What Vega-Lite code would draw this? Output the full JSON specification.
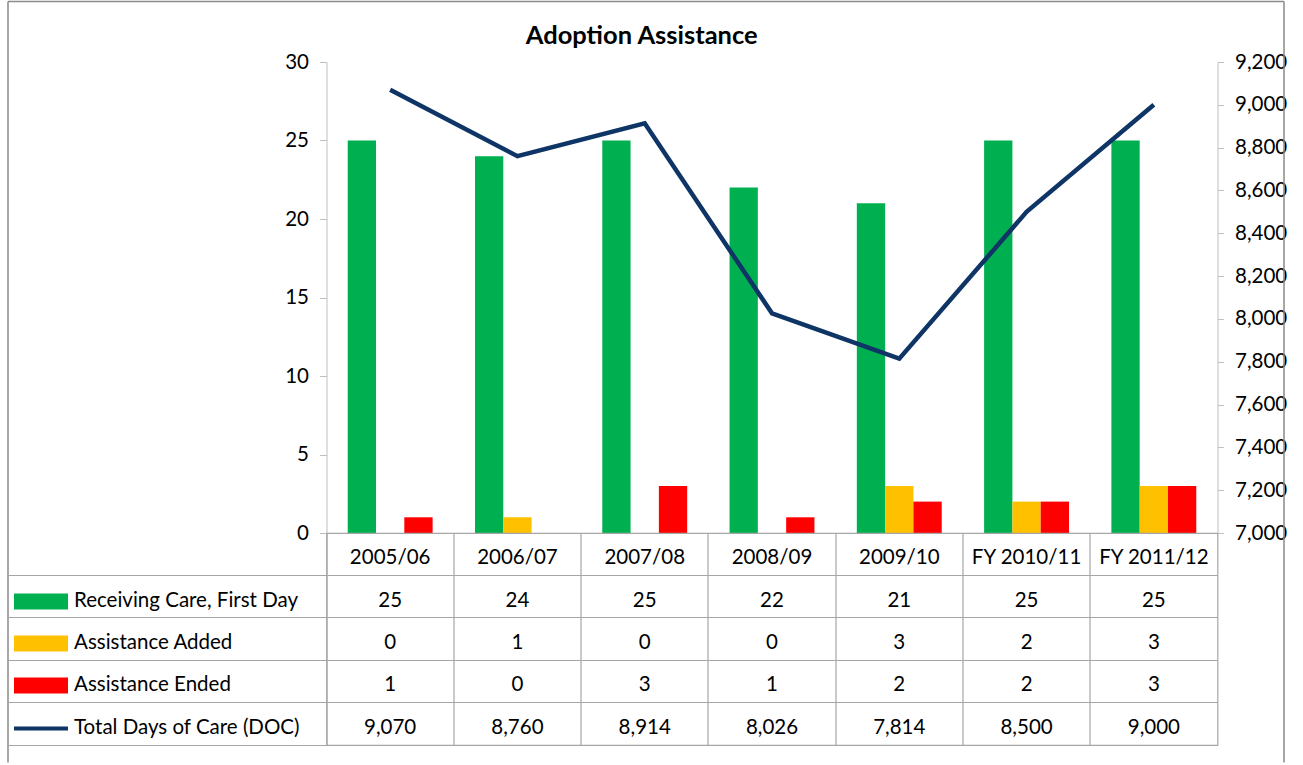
{
  "$schema": "https://vega.github.io/schema/vega-lite/v6.json",
  "padding": {"left": 4.5, "top": 1, "right": 0, "bottom": 0},
  "background": "#ffffff",
  "title": {"text": "Adoption Assistance", "font": "Lato", "fontSize": 25.5, "fontWeight": "bold", "anchor": "middle", "offset": -48, "dx": -162, "color": "#000000"},
  "datasets": {
    "main": [
      {"cat": "2005/06", "series": "Receiving Care, First Day", "value": 25},
      {"cat": "2006/07", "series": "Receiving Care, First Day", "value": 24},
      {"cat": "2007/08", "series": "Receiving Care, First Day", "value": 25},
      {"cat": "2008/09", "series": "Receiving Care, First Day", "value": 22},
      {"cat": "2009/10", "series": "Receiving Care, First Day", "value": 21},
      {"cat": "FY 2010/11", "series": "Receiving Care, First Day", "value": 25},
      {"cat": "FY 2011/12", "series": "Receiving Care, First Day", "value": 25},
      {"cat": "2005/06", "series": "Assistance Added", "value": 0},
      {"cat": "2006/07", "series": "Assistance Added", "value": 1},
      {"cat": "2007/08", "series": "Assistance Added", "value": 0},
      {"cat": "2008/09", "series": "Assistance Added", "value": 0},
      {"cat": "2009/10", "series": "Assistance Added", "value": 3},
      {"cat": "FY 2010/11", "series": "Assistance Added", "value": 2},
      {"cat": "FY 2011/12", "series": "Assistance Added", "value": 3},
      {"cat": "2005/06", "series": "Assistance Ended", "value": 1},
      {"cat": "2006/07", "series": "Assistance Ended", "value": 0},
      {"cat": "2007/08", "series": "Assistance Ended", "value": 3},
      {"cat": "2008/09", "series": "Assistance Ended", "value": 1},
      {"cat": "2009/10", "series": "Assistance Ended", "value": 2},
      {"cat": "FY 2010/11", "series": "Assistance Ended", "value": 2},
      {"cat": "FY 2011/12", "series": "Assistance Ended", "value": 3},
      {"cat": "2005/06", "series": "Total Days of Care (DOC)", "value": 9070},
      {"cat": "2006/07", "series": "Total Days of Care (DOC)", "value": 8760},
      {"cat": "2007/08", "series": "Total Days of Care (DOC)", "value": 8914},
      {"cat": "2008/09", "series": "Total Days of Care (DOC)", "value": 8026},
      {"cat": "2009/10", "series": "Total Days of Care (DOC)", "value": 7814},
      {"cat": "FY 2010/11", "series": "Total Days of Care (DOC)", "value": 8500},
      {"cat": "FY 2011/12", "series": "Total Days of Care (DOC)", "value": 9000}
    ],
    "cats": [
      {"cat": "2005/06", "series": "Category"},
      {"cat": "2006/07", "series": "Category"},
      {"cat": "2007/08", "series": "Category"},
      {"cat": "2008/09", "series": "Category"},
      {"cat": "2009/10", "series": "Category"},
      {"cat": "FY 2010/11", "series": "Category"},
      {"cat": "FY 2011/12", "series": "Category"}
    ],
    "frame": [{"f": 0.5}]
  },
  "vconcat": [
    {
      "width": 891,
      "height": 471,
      "view": {"stroke": null},
      "layer": [
        {
          "data": {"name": "main"},
          "transform": [{"filter": "datum.series !== 'Total Days of Care (DOC)'"}],
          "mark": {"type": "bar"},
          "encoding": {
            "x": {"field": "cat", "type": "nominal", "sort": null,
                  "scale": {"type": "band", "domain": ["2005/06", "2006/07", "2007/08", "2008/09", "2009/10", "FY 2010/11", "FY 2011/12"], "paddingInner": 0.333, "paddingOuter": 0.1667},
                  "axis": null},
            "xOffset": {"field": "series", "type": "nominal",
                        "scale": {"domain": ["Receiving Care, First Day", "Assistance Added", "Assistance Ended"], "paddingInner": 0, "paddingOuter": 0}},
            "y": {"field": "value", "type": "quantitative",
                  "scale": {"domain": [0, 30], "nice": false},
                  "axis": {"orient": "left", "values": [0, 5, 10, 15, 20, 25, 30], "title": null, "grid": false,
                           "domainColor": "#BFBFBF", "tickColor": "#BFBFBF", "tickSize": 7, "labelPadding": 11,
                           "labelFontSize": 20.5, "labelColor": "#000000", "labelFont": "Lato"}},
            "color": {"field": "series", "type": "nominal",
                      "scale": {"domain": ["Receiving Care, First Day", "Assistance Added", "Assistance Ended"], "range": ["#00B050", "#FFC000", "#FF0000"]},
                      "legend": null}
          }
        },
        {
          "data": {"name": "main"},
          "transform": [{"filter": "datum.series === 'Total Days of Care (DOC)'"}],
          "mark": {"type": "line", "color": "#0E3565", "strokeWidth": 4.5},
          "encoding": {
            "x": {"field": "cat", "type": "nominal", "sort": null,
                  "scale": {"type": "point", "domain": ["2005/06", "2006/07", "2007/08", "2008/09", "2009/10", "FY 2010/11", "FY 2011/12"], "padding": 0.5},
                  "axis": null},
            "y": {"field": "value", "type": "quantitative",
                  "scale": {"domain": [7000, 9200], "nice": false, "zero": false},
                  "axis": {"orient": "right", "values": [7000, 7200, 7400, 7600, 7800, 8000, 8200, 8400, 8600, 8800, 9000, 9200],
                           "format": ",.0f", "title": null, "grid": false,
                           "domainColor": "#BFBFBF", "tickColor": "#BFBFBF", "tickSize": 6, "labelPadding": 11,
                           "labelFontSize": 20.5, "labelColor": "#000000", "labelFont": "Lato", "labelOverlap": false}}
          }
        },
        {
          "data": {"name": "frame"},
          "mark": {"type": "point", "opacity": 0},
          "encoding": {
            "x": {"field": "f", "type": "quantitative", "scale": {"domain": [0, 1], "range": [-319, 957], "nice": false, "zero": false},
                  "axis": {"orient": "top", "offset": 61, "domain": true, "domainColor": "#8A8A8A", "domainWidth": 1.5, "ticks": false, "labels": false, "grid": false, "title": null}},
            "y": {"field": "f", "type": "quantitative", "scale": {"domain": [0, 1], "range": [-61, 700], "nice": false, "zero": false},
                  "axis": {"orient": "left", "offset": 319, "domain": true, "domainColor": "#8A8A8A", "domainWidth": 1.5, "ticks": false, "labels": false, "grid": false, "title": null}}
          }
        },
        {
          "data": {"name": "frame"},
          "mark": {"type": "point", "opacity": 0},
          "encoding": {
            "y": {"field": "f", "type": "quantitative", "scale": {"domain": [0, 1], "range": [-61, 700], "nice": false, "zero": false},
                  "axis": {"orient": "right", "offset": 66, "domain": true, "domainColor": "#8A8A8A", "domainWidth": 1.5, "ticks": false, "labels": false, "grid": false, "title": null}}
          }
        }
      ],
      "resolve": {"scale": {"x": "independent", "y": "independent"}}
    },
    {
      "width": 891,
      "height": 212,
      "view": {"stroke": "#A6A6A6", "strokeWidth": 1.2},
      "layer": [
        {
          "data": {"name": "cats"},
          "mark": {"type": "text", "fontSize": 20.5, "font": "Lato", "color": "#000000", "baseline": "middle", "align": "center", "dy": 4},
          "encoding": {
            "x": {"field": "cat", "type": "nominal", "sort": null,
                  "scale": {"type": "band", "domain": ["2005/06", "2006/07", "2007/08", "2008/09", "2009/10", "FY 2010/11", "FY 2011/12"], "paddingInner": 0, "paddingOuter": 0},
                  "axis": {"orient": "top", "bandPosition": 0, "grid": true, "gridColor": "#A6A6A6", "gridWidth": 1.2, "domain": false, "ticks": false, "labels": false, "title": null}},
            "y": {"field": "series", "type": "nominal", "sort": null,
                  "scale": {"type": "band", "domain": ["Category", "Receiving Care, First Day", "Assistance Added", "Assistance Ended", "Total Days of Care (DOC)"], "paddingInner": 0, "paddingOuter": 0},
                  "axis": {"orient": "left", "bandPosition": 1, "grid": true, "gridColor": "#A6A6A6", "gridWidth": 1.2,
                           "ticks": true, "tickSize": 319, "tickColor": "#A6A6A6", "tickWidth": 1.2, "domain": false, "title": null,
                           "labelExpr": "datum.value === 'Category' ? '' : datum.value",
                           "labelAlign": "left", "labelBaseline": "middle", "labelPadding": -66, "labelOffset": 4, "labelLimit": 0,
                           "labelFontSize": 20.5, "labelFont": "Lato", "labelColor": "#000000"}},
            "text": {"field": "cat", "type": "nominal"}
          }
        },
        {
          "data": {"name": "main"},
          "mark": {"type": "text", "fontSize": 20.5, "font": "Lato", "color": "#000000", "baseline": "middle", "align": "center", "dy": 4},
          "encoding": {
            "x": {"field": "cat", "type": "nominal", "sort": null,
                  "scale": {"type": "band", "domain": ["2005/06", "2006/07", "2007/08", "2008/09", "2009/10", "FY 2010/11", "FY 2011/12"], "paddingInner": 0, "paddingOuter": 0},
                  "axis": null},
            "y": {"field": "series", "type": "nominal", "sort": null,
                  "axis": {"orient": "left", "offset": 259, "bandPosition": 0.5, "tickOffset": 4, "grid": false, "domain": false, "labels": false, "title": null,
                           "ticks": true, "tickSize": 54,
                           "tickWidth": {"condition": {"test": "datum.value === 'Total Days of Care (DOC)'", "value": 4}, "value": 16},
                           "tickColor": {"condition": [
                             {"test": "datum.value === 'Receiving Care, First Day'", "value": "#00B050"},
                             {"test": "datum.value === 'Assistance Added'", "value": "#FFC000"},
                             {"test": "datum.value === 'Assistance Ended'", "value": "#FF0000"},
                             {"test": "datum.value === 'Total Days of Care (DOC)'", "value": "#0E3565"}
                           ], "value": "transparent"}}},
            "text": {"field": "value", "type": "quantitative", "format": ","}
          }
        }
      ],
      "resolve": {"axis": {"x": "independent", "y": "independent"}}
    }
  ],
  "spacing": 0,
  "bounds": "flush",
  "config": {
    "font": "Lato",
    "view": {"stroke": null}
  }
}
